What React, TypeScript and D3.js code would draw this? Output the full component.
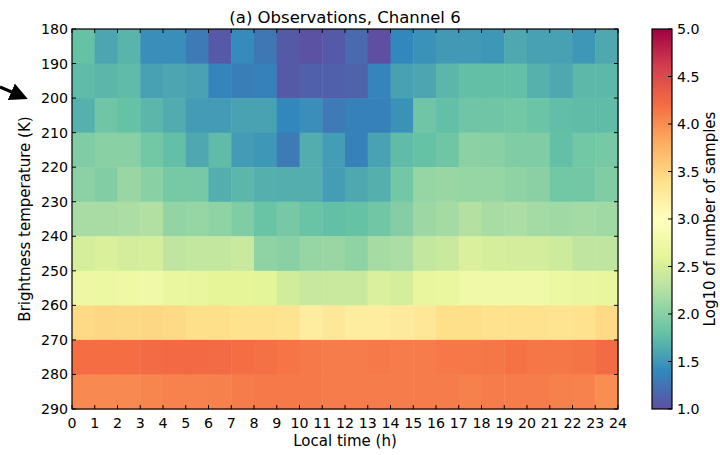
import React from 'react';
import * as d3 from 'd3';

// temperature bins (K), lower edges of each row
const tempBins = [180, 190, 200, 210, 220, 230, 240, 250, 260, 270, 280];
const hours = d3.range(0, 24);
const xTicks = d3.range(0, 25);
const yTicks = [180, 190, 200, 210, 220, 230, 240, 250, 260, 270, 280, 290];
const cbTicks = [1.0, 1.5, 2.0, 2.5, 3.0, 3.5, 4.0, 4.5, 5.0];

// log10 of number of samples, one row per temperature bin, one value per hour
const row180 = [1.8, 1.6, 1.7, 1.45, 1.45, 1.3, 1.07, 1.42, 1.28, 1.08, 1.02, 1.07, 1.18, 1.0, 1.4, 1.47, 1.52, 1.52, 1.5, 1.62, 1.57, 1.57, 1.5, 1.62];
const row190 = [1.75, 1.72, 1.75, 1.57, 1.6, 1.58, 1.37, 1.33, 1.35, 1.08, 1.12, 1.12, 1.14, 1.37, 1.57, 1.6, 1.72, 1.78, 1.78, 1.78, 1.68, 1.62, 1.73, 1.73];
const row200 = [1.68, 1.85, 1.8, 1.72, 1.64, 1.53, 1.53, 1.58, 1.58, 1.4, 1.45, 1.3, 1.35, 1.35, 1.47, 1.85, 1.78, 1.85, 1.85, 1.87, 1.83, 1.77, 1.76, 1.76];
const row210 = [1.95, 2.0, 2.0, 1.87, 1.78, 1.62, 1.75, 1.53, 1.5, 1.3, 1.65, 1.54, 1.35, 1.58, 1.75, 1.8, 1.85, 2.02, 2.0, 1.95, 1.95, 1.78, 1.87, 1.9];
const row220 = [2.02, 1.97, 2.1, 2.0, 1.9, 1.9, 1.66, 1.72, 1.67, 1.66, 1.66, 1.54, 1.62, 1.67, 1.87, 2.08, 2.1, 2.08, 2.08, 2.04, 2.0, 1.87, 1.88, 1.95];
const row230 = [2.18, 2.18, 2.2, 2.25, 2.06, 2.08, 2.04, 1.95, 1.82, 1.9, 1.82, 1.78, 1.8, 1.86, 1.98, 2.12, 2.16, 2.26, 2.18, 2.2, 2.16, 2.14, 2.16, 2.14];
const row240 = [2.48, 2.52, 2.47, 2.48, 2.34, 2.37, 2.36, 2.4, 2.04, 2.0, 2.08, 2.1, 2.04, 2.17, 2.2, 2.37, 2.4, 2.52, 2.48, 2.47, 2.47, 2.43, 2.34, 2.34];
const row250 = [2.72, 2.7, 2.73, 2.75, 2.67, 2.65, 2.6, 2.6, 2.58, 2.46, 2.39, 2.4, 2.4, 2.52, 2.48, 2.65, 2.67, 2.75, 2.75, 2.75, 2.76, 2.7, 2.68, 2.65];
const row260 = [3.45, 3.47, 3.46, 3.47, 3.45, 3.4, 3.4, 3.38, 3.38, 3.36, 3.25, 3.3, 3.25, 3.25, 3.27, 3.3, 3.4, 3.41, 3.38, 3.38, 3.38, 3.36, 3.38, 3.45];
const row270 = [4.2, 4.2, 4.2, 4.22, 4.23, 4.23, 4.22, 4.2, 4.18, 4.15, 4.12, 4.1, 4.1, 4.12, 4.1, 4.1, 4.13, 4.13, 4.14, 4.17, 4.14, 4.14, 4.16, 4.22];
const row280 = [4.02, 4.03, 4.03, 4.05, 4.07, 4.07, 4.08, 4.1, 4.12, 4.12, 4.12, 4.1, 4.1, 4.1, 4.1, 4.1, 4.1, 4.08, 4.1, 4.1, 4.1, 4.08, 4.07, 4.0];
const rows = [row180, row190, row200, row210, row220, row230, row240, row250, row260, row270, row280];

// matplotlib Spectral_r (linear through ColorBrewer nodes)
const spectral = ['#9e0142', '#d53e4f', '#f46d43', '#fdae61', '#fee08b', '#ffffbf', '#e6f598', '#abdda4', '#66c2a5', '#3288bd', '#5e4fa2'];

const font = 'DejaVu Sans, sans-serif';

export default function App() {
  const left = 72, right = 618, top = 29, bottom = 409;
  const cbLeft = 652, cbRight = 672;

  const x = d3.scaleLinear().domain([0, 24]).range([left, right]);
  const y = d3.scaleLinear().domain([180, 290]).range([top, bottom]);
  const cb = d3.scaleLinear().domain([1, 5]).range([bottom, top]);
  const color = d3
    .scaleLinear<string>()
    .domain(d3.range(11).map((i) => 5 - i * 0.4))
    .range(spectral)
    .interpolate(d3.interpolateRgb)
    .clamp(true);

  const cells: { h: number; t: number; v: number }[] = [];
  rows.forEach((r, i) => r.forEach((v, j) => cells.push({ h: hours[j], t: tempBins[i], v })));

  const stops = d3.range(0, 1.0001, 0.02);
  const tick = 4;

  return (
    <svg width={720} height={455} style={{ position: 'absolute', left: 0, top: 0, background: '#fff' }}>
      <defs>
        <linearGradient id="cbgrad" x1="0" y1="1" x2="0" y2="0">
          {stops.map((s) => (
            <stop key={s} offset={s} stopColor={color(1 + s * 4)} />
          ))}
        </linearGradient>
        <marker id="arrowhead" markerWidth="6" markerHeight="6" refX="1" refY="3" orient="auto" markerUnits="strokeWidth">
          <path d="M0,0 L6,3 L0,6 z" fill="#000" />
        </marker>
      </defs>

      <text x={(left + right) / 2} y={22.5} textAnchor="middle" fontFamily={font} fontSize={16.5}>
        (a) Observations, Channel 6
      </text>

      {cells.map((c, i) => (
        <rect
          key={i}
          x={x(c.h)}
          y={y(c.t)}
          width={x(c.h + 1) - x(c.h) + 0.5}
          height={y(c.t + 10) - y(c.t) + 0.5}
          fill={color(c.v)}
        />
      ))}

      {/* ticks inside on all four sides */}
      {xTicks.map((t) => (
        <g key={'x' + t}>
          <line x1={x(t)} x2={x(t)} y1={bottom} y2={bottom - tick} stroke="#000" />
          <line x1={x(t)} x2={x(t)} y1={top} y2={top + tick} stroke="#000" />
          <text x={x(t)} y={427.5} textAnchor="middle" fontFamily={font} fontSize={14.2}>
            {t}
          </text>
        </g>
      ))}
      {yTicks.map((t) => (
        <g key={'y' + t}>
          <line x1={left} x2={left + tick} y1={y(t)} y2={y(t)} stroke="#000" />
          <line x1={right} x2={right - tick} y1={y(t)} y2={y(t)} stroke="#000" />
          <text x={68} y={y(t) + 5} textAnchor="end" fontFamily={font} fontSize={14.2}>
            {t}
          </text>
        </g>
      ))}
      <rect x={left} y={top} width={right - left} height={bottom - top} fill="none" stroke="#000" strokeWidth={1.2} />

      <text x={(left + right) / 2} y={446} textAnchor="middle" fontFamily={font} fontSize={15}>
        Local time (h)
      </text>
      <text
        transform={`translate(30,${(top + bottom) / 2}) rotate(-90)`}
        textAnchor="middle"
        fontFamily={font}
        fontSize={15}
      >
        Brightness temperature (K)
      </text>

      {/* colorbar */}
      <rect x={cbLeft} y={top} width={cbRight - cbLeft} height={bottom - top} fill="url(#cbgrad)" />
      {cbTicks.map((t) => (
        <g key={'c' + t}>
          <line x1={cbRight} x2={cbRight - tick} y1={cb(t)} y2={cb(t)} stroke="#000" />
          <text x={677} y={cb(t) + 5} fontFamily={font} fontSize={14.2}>
            {d3.format('.1f')(t)}
          </text>
        </g>
      ))}
      <rect x={cbLeft} y={top} width={cbRight - cbLeft} height={bottom - top} fill="none" stroke="#000" strokeWidth={1.2} />
      <text
        transform={`translate(715,${(top + bottom) / 2}) rotate(-90)`}
        textAnchor="middle"
        fontFamily={font}
        fontSize={15}
      >
        Log10 of number of samples
      </text>

      {/* arrow marking 200 K */}
      <line x1={0} y1={87} x2={14} y2={93} stroke="#000" strokeWidth={3} markerEnd="url(#arrowhead)" />
    </svg>
  );
}
